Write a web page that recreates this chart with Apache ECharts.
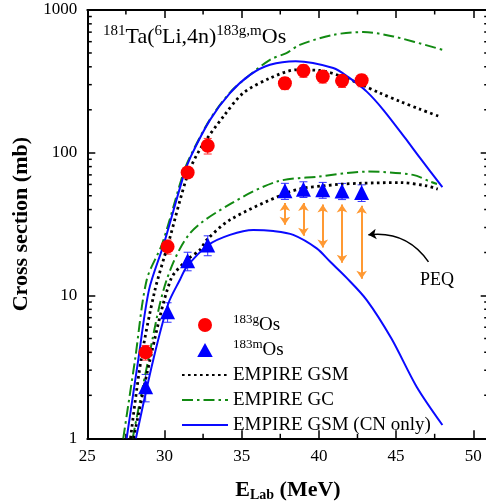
<!DOCTYPE html>
<html>
<head>
<meta charset="utf-8">
<script src="https://cdn.jsdelivr.net/npm/echarts@6/dist/echarts.min.js"></script>
<style>
  html, body { margin: 0; padding: 0; background: #fff; }
  #chart { width: 486px; height: 504px; }
</style>
</head>
<body>
<div id="chart"></div>
<script>
const serif = "'Liberation Serif', 'Times New Roman', serif";

// measured points (E in MeV, sigma in mb)
const expE = [28.78, 30.2, 31.5, 32.8, 37.8, 39.0, 40.25, 41.5, 42.77];
const gVal = [4.0, 22.0, 72.7, 112, 307, 375, 342, 319, 322];
const gErr = [0.47, 2.5, 5.5, 14, 30, 37, 34, 32, 32];
const mVal = [2.3, 7.7, 17.5, 22.6, 54.1, 55.6, 55.0, 54.0, 52.6];
const mErr = [0.5, 1.2, 2.6, 3.6, 7, 7, 7, 7, 7];

// EMPIRE curves, ground state (upper set)
const gsmG = [[27.8, 1], [28.48, 3.54], [29.38, 10.9], [30.25, 23.2], [31.5, 70], [32.35, 108],
  [33.81, 179], [35.1, 262], [36.83, 333], [38.56, 381], [40.06, 377], [41.36, 346],
  [42.65, 304], [43.95, 262], [45.25, 229], [46.54, 202], [47.9, 178]];
const gcG = [[27.33, 1], [28.09, 3.54], [28.85, 12.9], [29.86, 23.2], [31.22, 72], [31.66, 94],
  [32.95, 172], [34.24, 264], [35.3, 335], [36.83, 448], [37.9, 499], [38.76, 570],
  [40.93, 670], [42.87, 700], [44.82, 653], [48.0, 526]];
const cnG = [[27.55, 1], [28.3, 3.54], [29.0, 11], [29.97, 23.2], [31.25, 70], [31.7, 94],
  [32.95, 170], [34.24, 262], [35.54, 351], [36.83, 413], [38.5, 438], [40.93, 392],
  [42.0, 333], [43.1, 268], [44.17, 200], [45.58, 127], [46.55, 92], [48.0, 57.4]];

// EMPIRE curves, metastable state (lower set)
const gsmM = [[28.0, 1], [29.06, 3.54], [30.4, 12.9], [31.44, 17.7], [32.3, 20.9], [32.73, 24.5],
  [34.24, 33.9], [37.7, 51.3], [39.0, 56.5], [40.25, 58.6], [41.5, 60.3], [42.8, 61.2],
  [45.25, 61.8], [47.0, 58.6], [47.7, 55.6]];
const gcM = [[27.94, 1], [28.95, 3.54], [30.1, 12.5], [31.65, 27.3], [34.3, 44], [37.27, 62.8],
  [40.0, 68.1], [43.1, 73.8], [46.1, 70], [47.2, 62.8], [47.65, 60.5]];
const cnM = [[28.15, 1], [29.27, 3.54], [30.25, 8.8], [31.0, 12.9], [31.44, 15.9], [32.84, 22.6],
  [34.24, 26.6], [35.75, 28.8], [37.05, 28.3], [38.34, 26.6], [39.86, 21.4], [40.72, 17.3],
  [41.8, 13.3], [43.1, 9.3], [44.7, 5.0], [46.33, 2.3], [48.0, 1.24]];

// PEQ arrows
const peqE = [37.8, 39.0, 40.25, 41.5, 42.77];
const peqTop = [44.5, 44.5, 43.5, 43.5, 42.5];
const peqBot = [31.3, 26.2, 21.7, 17.0, 13.1];
const peqNote = [[47.1, 17.2], [43.2, 26.6]];

// tick values
const xMinorTicks = [27.5, 32.5, 37.5, 42.5, 47.5];
const yMinorTicks = [2, 3, 4, 5, 6, 7, 8, 9, 20, 30, 40, 50, 60, 70, 80, 90, 200, 300, 400, 500, 600, 700, 800, 900];

const chart = echarts.init(document.getElementById('chart'));

function errBars(color) {
  return function (params, api) {
    const x = api.value(0), y = api.value(1), e = api.value(2);
    const top = api.coord([x, y + e]);
    const bot = api.coord([x, y - e]);
    const st = { stroke: color, lineWidth: 1 };
    return {
      type: 'group',
      children: [
        { type: 'line', shape: { x1: top[0], y1: top[1], x2: bot[0], y2: bot[1] }, style: st },
        { type: 'line', shape: { x1: top[0] - 4, y1: top[1], x2: top[0] + 4, y2: top[1] }, style: st },
        { type: 'line', shape: { x1: bot[0] - 4, y1: bot[1], x2: bot[0] + 4, y2: bot[1] }, style: st }
      ]
    };
  };
}

const tickStyle = { stroke: '#000', lineWidth: 1.5 };

const axisCommon = {
  axisLine: { show: true, onZero: false, lineStyle: { color: '#000', width: 2 } },
  axisTick: { show: true, inside: true, length: 8, lineStyle: { color: '#000', width: 1.5 } },
  splitLine: { show: false }
};

const labelFont = { fontFamily: serif, fontSize: 17, color: '#000' };

const lineCommon = { type: 'line', symbol: 'none', smooth: 0.3, clip: true };

chart.setOption({
  animation: false,
  backgroundColor: '#fff',
  grid: { left: 87.3, right: -2.7, top: 10, bottom: 65.7, containLabel: false, outerBoundsMode: 'none' },
  xAxis: [
    Object.assign({}, axisCommon, {
      type: 'value', min: 25, max: 51, interval: 5, position: 'bottom',
      axisLabel: Object.assign({}, labelFont, { margin: 10, formatter: v => (v % 5 === 0 ? String(v) : '') }),
      name: '{b|E}{s|Lab}{b| (MeV)}', nameLocation: 'middle', nameGap: 40,
      nameTextStyle: {
        rich: {
          b: { fontSize: 22, fontWeight: 'bold', fontFamily: serif, color: '#000' },
          s: { fontSize: 14, fontWeight: 'bold', fontFamily: serif, color: '#000', padding: [10, 0, 0, 0] }
        }
      }
    }),
    Object.assign({}, axisCommon, {
      type: 'value', min: 25, max: 51, interval: 5, position: 'top',
      axisLabel: { show: false }
    })
  ],
  yAxis: [
    Object.assign({}, axisCommon, {
      type: 'log', logBase: 10, min: 1, max: 1000, position: 'left',
      axisLabel: Object.assign({}, labelFont, { margin: 10, formatter: v => String(Math.round(v)) }),
      name: 'Cross section (mb)', nameLocation: 'middle', nameGap: 38,
      nameTextStyle: { fontSize: 22, fontWeight: 'bold', fontFamily: serif, color: '#000' }
    }),
    Object.assign({}, axisCommon, {
      type: 'log', logBase: 10, min: 1, max: 1000, position: 'right',
      axisLabel: { show: false }
    })
  ],
  legend: {
    orient: 'vertical', left: 176, top: 308,
    itemWidth: 46, itemHeight: 14, itemGap: 1,
    data: [
      { name: '183g', icon: 'circle' },
      { name: '183m', icon: 'path://M5,0 L10,9 L0,9 Z' },
      { name: 'EMPIRE GSM', itemStyle: { opacity: 0 } },
      { name: 'EMPIRE GC', itemStyle: { opacity: 0 } },
      { name: 'EMPIRE GSM (CN only)', itemStyle: { opacity: 0 } }
    ],
    formatter: name => {
      if (name === '183g') return '{sup|183g}{base|Os}';
      if (name === '183m') return '{sup|183m}{base|Os}';
      return name;
    },
    textStyle: {
      fontFamily: serif, fontSize: 19, color: '#000', lineHeight: 24,
      rich: {
        sup: { fontFamily: serif, fontSize: 13, color: '#000', padding: [0, 0, 10, 0] },
        base: { fontFamily: serif, fontSize: 19, color: '#000' }
      }
    }
  },
  graphic: [
    {
      type: 'text', left: 103, top: 24,
      style: {
        text: '{s|181}{b|Ta(}{s|6}{b|Li,4n)}{s|183g,m}{b|Os}',
        rich: {
          s: { fontSize: 15, fontFamily: serif, fill: '#000', padding: [0, 0, 11, 0] },
          b: { fontSize: 22, fontFamily: serif, fill: '#000' }
        }
      }
    },
    {
      type: 'text', left: 420, top: 271,
      style: { text: 'PEQ', fontSize: 18, fontFamily: serif, fill: '#000' }
    }
  ],
  series: [
    // minor ticks
    {
      type: 'custom', silent: true, clip: false,
      data: yMinorTicks.map(v => [30, v]),
      renderItem: (params, api) => {
        const cs = params.coordSys;
        const y = api.coord([30, api.value(1)])[1];
        return {
          type: 'group', children: [
            { type: 'line', shape: { x1: cs.x, y1: y, x2: cs.x + 4.5, y2: y }, style: tickStyle },
            { type: 'line', shape: { x1: cs.x + cs.width, y1: y, x2: cs.x + cs.width - 4.5, y2: y }, style: tickStyle }
          ]
        };
      }
    },
    {
      type: 'custom', silent: true, clip: false,
      data: xMinorTicks.map(v => [v, 10]),
      renderItem: (params, api) => {
        const cs = params.coordSys;
        const x = api.coord([api.value(0), 10])[0];
        return {
          type: 'group', children: [
            { type: 'line', shape: { x1: x, y1: cs.y + cs.height, x2: x, y2: cs.y + cs.height - 4.5 }, style: tickStyle },
            { type: 'line', shape: { x1: x, y1: cs.y, x2: x, y2: cs.y + 4.5 }, style: tickStyle }
          ]
        };
      }
    },
    // model curves
    Object.assign({}, lineCommon, { name: 'EMPIRE GC', data: gcG, lineStyle: { color: '#128a12', width: 2, type: [11, 4, 2.5, 4] }, itemStyle: { color: '#128a12' } }),
    Object.assign({}, lineCommon, { name: 'EMPIRE GC', data: gcM, lineStyle: { color: '#128a12', width: 2, type: [11, 4, 2.5, 4] }, itemStyle: { color: '#128a12' } }),
    Object.assign({}, lineCommon, { name: 'EMPIRE GSM', data: gsmG, lineStyle: { color: '#000', width: 2.8, type: [2.6, 3.4] }, itemStyle: { color: '#000' } }),
    Object.assign({}, lineCommon, { name: 'EMPIRE GSM', data: gsmM, lineStyle: { color: '#000', width: 2.8, type: [2.6, 3.4] }, itemStyle: { color: '#000' } }),
    Object.assign({}, lineCommon, { name: 'EMPIRE GSM (CN only)', data: cnG, lineStyle: { color: '#0a0aff', width: 2 }, itemStyle: { color: '#0a0aff' } }),
    Object.assign({}, lineCommon, { name: 'EMPIRE GSM (CN only)', data: cnM, lineStyle: { color: '#0a0aff', width: 2 }, itemStyle: { color: '#0a0aff' } }),
    // PEQ arrows
    {
      type: 'lines', coordinateSystem: 'cartesian2d', silent: true,
      symbol: ['arrow', 'arrow'], symbolSize: 8,
      lineStyle: { color: '#ff9933', width: 2, opacity: 1 },
      data: peqE.map((e, i) => ({ coords: [[e, peqTop[i]], [e, peqBot[i]]] }))
    },
    {
      type: 'lines', coordinateSystem: 'cartesian2d', silent: true,
      symbol: ['none', 'arrow'], symbolSize: 8,
      lineStyle: { color: '#000', width: 1.5, opacity: 1, curveness: -0.3 },
      data: [{ coords: peqNote }]
    },
    // error bars
    {
      type: 'custom', silent: true,
      data: expE.map((e, i) => [e, gVal[i], gErr[i]]),
      encode: { x: 0, y: 1 },
      renderItem: errBars('#ff3030'), z: 3
    },
    {
      type: 'custom', silent: true,
      data: expE.map((e, i) => [e, mVal[i], mErr[i]]),
      encode: { x: 0, y: 1 },
      renderItem: errBars('#3030ff'), z: 3
    },
    // data points
    {
      name: '183g', type: 'scatter', symbol: 'circle', symbolSize: 14,
      itemStyle: { color: '#ff0000', opacity: 1 }, z: 4,
      data: expE.map((e, i) => [e, gVal[i]])
    },
    {
      name: '183m', type: 'scatter', symbol: 'triangle', symbolSize: 15,
      itemStyle: { color: '#0000ff', opacity: 1 }, z: 4,
      data: expE.map((e, i) => [e, mVal[i]])
    }
  ]
});
</script>
</body>
</html>
